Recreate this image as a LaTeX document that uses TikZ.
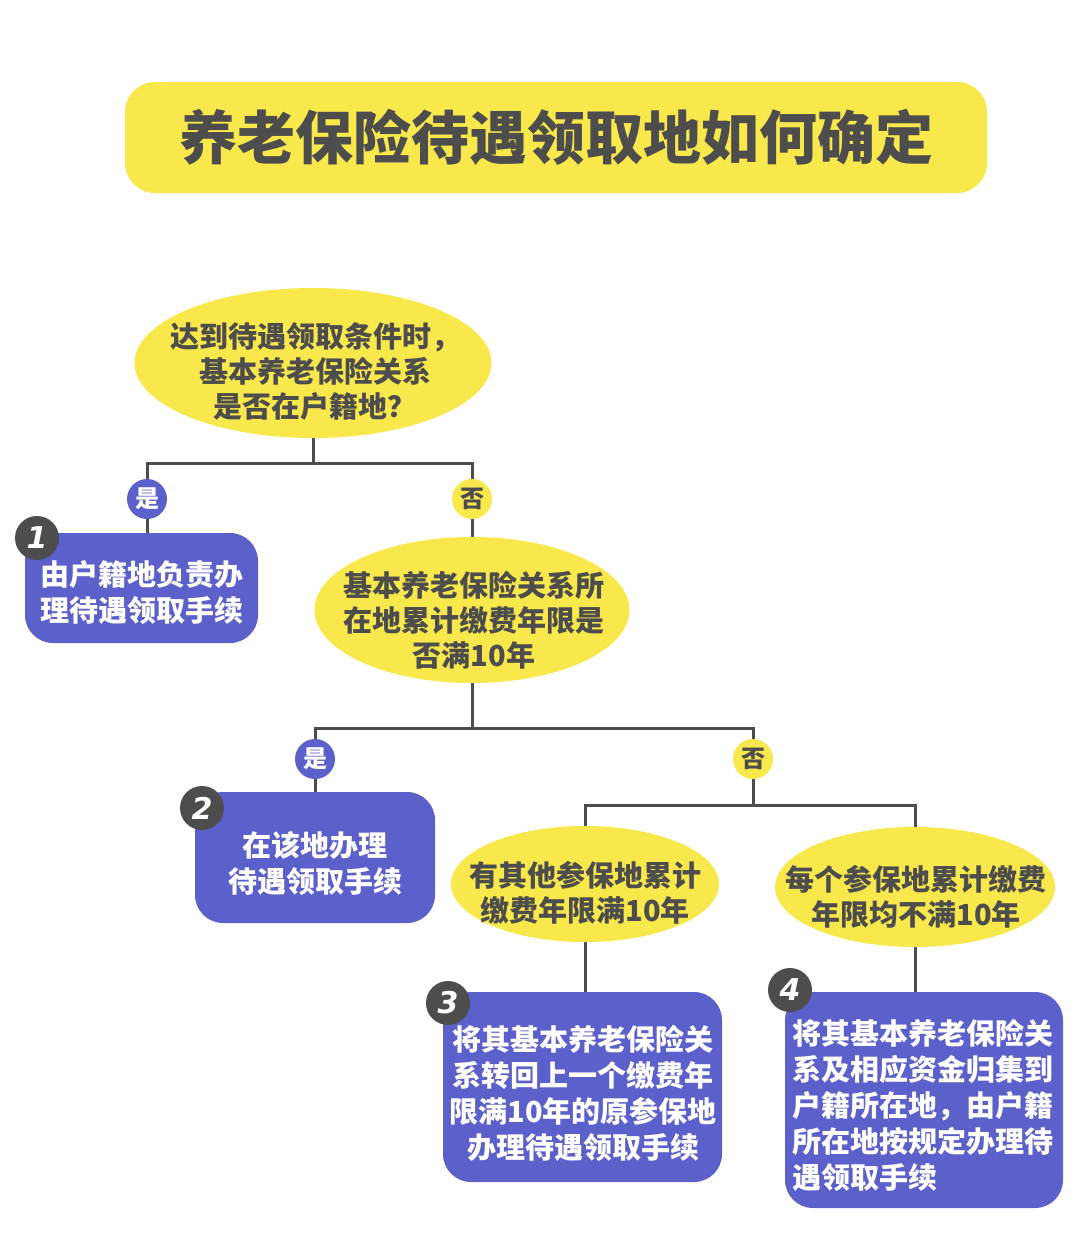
\documentclass[tikz,border=0pt]{standalone}
\usepackage{fontspec}
\IfFontExistsTF{Noto Sans CJK SC Black}
  {\newfontfamily\cjk{Noto Sans CJK SC Black}}
  {\newfontfamily\cjk{Noto Sans CJK SC}[UprightFont=* Bold, FakeBold=3]}
\newfontfamily\numfont{DejaVu Sans}
\usetikzlibrary{shapes.geometric, backgrounds}
\definecolor{flowyellow}{HTML}{F8E84C}
\definecolor{flowblue}{HTML}{5C60CA}
\definecolor{flowgray}{HTML}{4D4D4D}
\tikzset{
  question/.style={ellipse, fill=flowyellow, inner sep=0pt},
  qtext/.style={inner sep=0pt, align=center, text=flowgray,
    font=\cjk\fontsize{29}{35}\selectfont},
  result/.style={rectangle, rounded corners=28pt, fill=flowblue, inner sep=0pt},
  rtext/.style={inner sep=0pt, text=white,
    font=\cjk\fontsize{29}{36}\selectfont},
  yesbadge/.style={circle, fill=flowblue, minimum size=40pt, inner sep=0pt,
    text=white, font=\cjk\fontsize{24}{24}\selectfont},
  nobadge/.style={yesbadge, fill=flowyellow, text=flowgray},
  numbadge/.style={circle, fill=flowgray, minimum size=44pt, inner sep=0pt,
    text=white, font=\numfont\bfseries\itshape\fontsize{30}{30}\selectfont},
  link/.style={draw=flowgray, line width=3pt},
}
\begin{document}
\begin{tikzpicture}[x=1pt, y=-1pt]
    \useasboundingbox (0,0) rectangle (1080,1258);

    % Title
    \node[rectangle, rounded corners=30pt, fill=flowyellow, minimum width=862pt,
      minimum height=111pt, text=flowgray, font=\cjk\fontsize{58}{60}\selectfont]
      (title) at (556,137.5) {养老保险待遇领取地如何确定};

    % Questions
    \node[question, minimum width=357pt, minimum height=150pt] (q1) at (313,363) {};
    \node[qtext] (q1t) at (315,372) {达到待遇领取条件时，\\基本养老保险关系\\是否在户籍地？};
    \node[question, minimum width=315pt, minimum height=146pt] (q2) at (472,610) {};
    \node[qtext] (q2t) at (474,620) {基本养老保险关系所\\在地累计缴费年限是\\否满10年};
    \node[question, minimum width=268pt, minimum height=116pt] (q3a) at (585,884) {};
    \node[qtext] (q3at) at (585,893) {有其他参保地累计\\缴费年限满10年};
    \node[question, minimum width=280pt, minimum height=120pt] (q3b) at (915,887) {};
    \node[qtext] (q3bt) at (916,897) {每个参保地累计缴费\\年限均不满10年};

    % Yes / no badges
    \node[yesbadge] (yes1) at (147,499) {是};
    \node[nobadge] (no1) at (472,499) {否};
    \node[yesbadge] (yes2) at (315,759) {是};
    \node[nobadge] (no2) at (753,759) {否};

    % Results
    \node[result, minimum width=233pt, minimum height=110pt] (res1) at (141.5,588) {};
    \node[rtext, align=center] (res1t) at (142,593) {由户籍地负责办\\理待遇领取手续};
    \node[result, minimum width=240pt, minimum height=131pt] (res2) at (315,857.5) {};
    \node[rtext, align=center] (res2t) at (315,863) {在该地办理\\待遇领取手续};
    \node[result, minimum width=279pt, minimum height=190pt] (res3) at (582.5,1087) {};
    \node[rtext, align=center] (res3t) at (583,1093)
      {将其基本养老保险关\\系转回上一个缴费年\\限满10年的原参保地\\办理待遇领取手续};
    \node[result, minimum width=278pt, minimum height=216pt] (res4) at (924,1100) {};
    \node[rtext, align=left] (res4t) at (923,1105)
      {将其基本养老保险关\\系及相应资金归集到\\户籍所在地，由户籍\\所在地按规定办理待\\遇领取手续};

    % Step numbers
    \foreach \n/\x/\y in {1/37/538, 2/202/808, 3/448/1003, 4/790/990} {
        \node[numbadge] (num\n) at (\x,\y) {\n};
    }

    % Connectors
    \coordinate (j1) at (q1.south |- 0,463);
    \coordinate (j2) at (q2.south |- 0,728);
    \coordinate (j3) at (no2 |- 0,805);
    \begin{pgfonlayer}{background}
        \fill[white] (0,0) rectangle (1080,1258);
        \draw[link] (q1.south) -- (j1);
        \draw[link] (yes1.center) |- (j1) -| (no1.center);
        \draw[link] (yes1) -- (yes1 |- res1.north);
        \draw[link] (no1) -- (no1 |- q2.north);
        \draw[link] (q2.south) -- (j2);
        \draw[link] (yes2.center) |- (j2) -| (no2.center);
        \draw[link] (yes2) -- (yes2 |- res2.north);
        \draw[link] (no2) -- (j3);
        \draw[link] (q3a.center) |- (j3) -| (q3b.center);
        \draw[link] (q3a) -- (q3a |- res3.north);
        \draw[link] (q3b) -- (q3b |- res4.north);
    \end{pgfonlayer}
\end{tikzpicture}
\end{document}
